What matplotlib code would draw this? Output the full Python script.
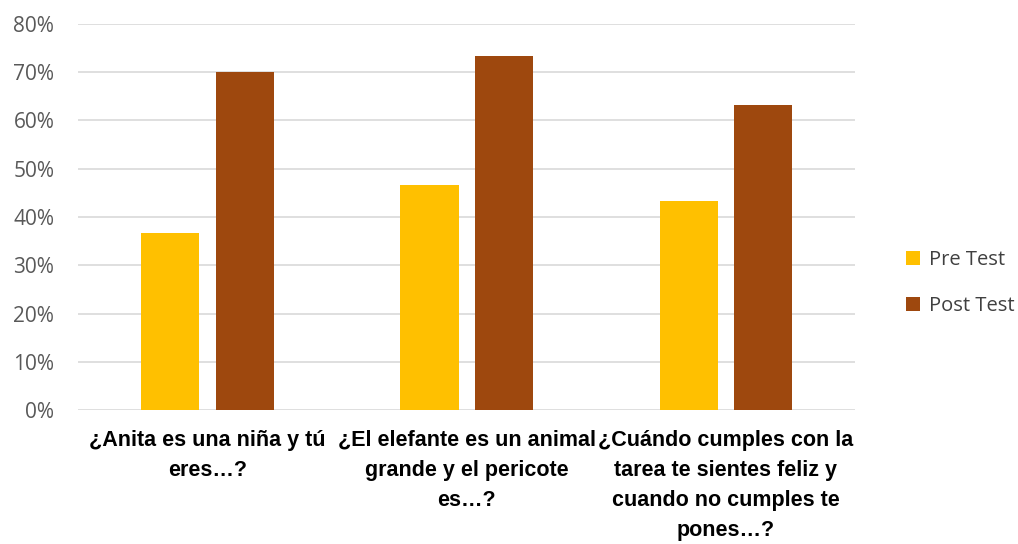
import numpy as np
import matplotlib
matplotlib.use("Agg")
import matplotlib.pyplot as plt

preguntas = [
    "¿Anita es una niña y tú\neres…?",
    "¿El elefante es un animal\ngrande y el pericote\nes…?",
    "¿Cuándo cumples con la\ntarea te sientes feliz y\ncuando no cumples te\npones…?",
]
pre_test = [0.367, 0.467, 0.433]
post_test = [0.700, 0.733, 0.633]
ticks_y = [0, 0.1, 0.2, 0.3, 0.4, 0.5, 0.6, 0.7, 0.8]

fig = plt.figure(figsize=(10.18, 5.44), dpi=100)
ax = fig.add_axes([0.0766, 0.246, 0.7634, 0.71])

x = np.arange(len(preguntas))
ancho = 0.224
ax.bar(x - 0.143, pre_test, ancho, color="#FFC000", label="Pre Test", zorder=3)
ax.bar(x + 0.143, post_test, ancho, color="#9E480E", label="Post Test", zorder=3)

ax.set_xlim(-0.5, 2.5)
ax.set_ylim(0, 0.8)
ax.set_yticks(ticks_y)
ax.set_yticklabels([f"{int(round(t * 100))}%" for t in ticks_y],
                   fontsize=15, color="#595959", family=["Open Sans", "DejaVu Sans"])
ax.yaxis.grid(True, color="#d9d9d9", linewidth=1.2, zorder=0)
ax.set_axisbelow(True)

ax.set_xticks(x)
ax.set_xticklabels(preguntas, fontsize=15.5, fontweight="bold", color="#000000",
                   linespacing=1.58,
                   family=["Liberation Sans Narrow", "Liberation Sans", "DejaVu Sans"])
ax.tick_params(axis="both", length=0)
ax.tick_params(axis="x", pad=14)
ax.tick_params(axis="y", pad=17)

for lado in ax.spines.values():
    lado.set_visible(False)

fig.legend(loc="center left", bbox_to_anchor=(0.872, 0.48), frameon=False,
           handlelength=0.7, handleheight=0.7, handletextpad=0.45,
           labelspacing=1.3, labelcolor="#404040",
           prop={"family": ["Open Sans", "DejaVu Sans"], "size": 14.5})

fig.savefig("out.png", dpi=100)
